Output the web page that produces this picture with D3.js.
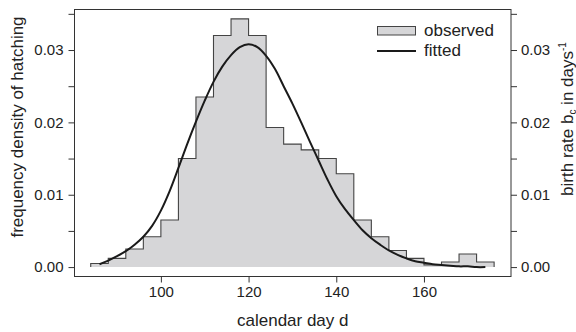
<!DOCTYPE html>
<html>
<head>
<meta charset="utf-8">
<script src="https://cdn.jsdelivr.net/npm/d3@7"></script>
<style>
  body { margin: 0; background: #fff; }
  text { font-family: "Liberation Sans", Arial, sans-serif; fill: #222; }
</style>
</head>
<body>
<svg width="576" height="332"></svg>
<script>
// histogram: 4-day bins, density of hatching
var binStarts = [84, 88, 92, 96, 100, 104, 108, 112, 116, 120, 124, 128, 132, 136, 140, 144, 148, 152, 156, 160, 164, 168, 172];
var binWidth = 4;
var observed = [0.0005, 0.0012, 0.0025, 0.0042, 0.0065, 0.0150, 0.0235, 0.0320, 0.0343, 0.0320, 0.0193, 0.0170,
                0.0162, 0.0150, 0.0129, 0.0065, 0.0042, 0.0023, 0.0012, 0.0003, 0.0007, 0.0018, 0.0007];

// fitted birth rate curve
var fitDays = [86, 88, 90, 92, 94, 96, 98, 100, 102, 104, 106, 108, 110, 112, 114, 116, 118, 120, 122, 124, 126, 128, 130,
               132, 134, 136, 138, 140, 142, 144, 146, 148, 150, 152, 154, 156, 158, 160, 162, 164, 166, 168, 170, 172, 174];
var fitted = [0.0004, 0.0009, 0.0015, 0.0022, 0.0031, 0.0042, 0.0057, 0.0078, 0.0105, 0.0137, 0.0170, 0.0201, 0.0230,
              0.0256, 0.0277, 0.0293, 0.0304, 0.0308, 0.0304, 0.0292, 0.0274, 0.0250, 0.0226, 0.0200, 0.0173, 0.0147,
              0.0121, 0.0098, 0.0080, 0.0065, 0.0051, 0.0040, 0.0031, 0.0023, 0.0017, 0.0012, 0.0008, 0.0006, 0.0004,
              0.0003, 0.0002, 0.0001, 0.0001, 0.0000, 0.0000];

var xTicks = [100, 120, 140, 160];
var yTicks = [0, 0.01, 0.02, 0.03];
var yMinor = [0.005, 0.015, 0.025, 0.035];

var svg = d3.select("svg");
var margin = { top: 9.5, right: 65, bottom: 55.5, left: 74.5 };
var width = +svg.attr("width") - margin.left - margin.right;
var height = +svg.attr("height") - margin.top - margin.bottom;

var x = d3.scaleLinear().domain([80.3, 179.85]).range([0, width]);
var y = d3.scaleLinear().domain([-0.0013, 0.0356]).range([height, 0]);

var g = svg.append("g")
    .attr("transform", "translate(" + margin.left + "," + margin.top + ")");

// histogram as one step polygon
var steps = binStarts.map((d, i) => [d, observed[i]]);
steps.push([binStarts[binStarts.length - 1] + binWidth, observed[observed.length - 1]]);

var area = d3.area()
    .x(d => x(d[0]))
    .y0(y(0))
    .y1(d => y(d[1]))
    .curve(d3.curveStepAfter);

g.append("path")
    .datum(steps)
    .attr("d", area)
    .attr("fill", "#d6d6d8");

var outline = [[binStarts[0], 0]].concat(steps).concat([[steps[steps.length - 1][0], 0]]);
g.append("path")
    .datum(outline)
    .attr("d", d3.line().x(d => x(d[0])).y(d => y(d[1])).curve(d3.curveStepAfter))
    .attr("fill", "none")
    .attr("stroke", "#444")
    .attr("stroke-width", 1.1);

// fitted curve
g.append("path")
    .datum(fitDays.map((d, i) => [d, fitted[i]]))
    .attr("d", d3.line().x(d => x(d[0])).y(d => y(d[1])).curve(d3.curveCatmullRom))
    .attr("fill", "none")
    .attr("stroke", "#1a1a1a")
    .attr("stroke-width", 2);

// frame
g.append("rect")
    .attr("width", width)
    .attr("height", height)
    .attr("fill", "none")
    .attr("stroke", "#333")
    .attr("stroke-width", 1);

// axes
function styleAxis(sel) {
    sel.select(".domain").remove();
    sel.selectAll(".tick line").attr("stroke", "#333");
    sel.selectAll(".tick text").style("font-size", "15px").attr("fill", "#222");
}

g.append("g")
    .attr("transform", "translate(0," + height + ")")
    .call(d3.axisBottom(x).tickValues(xTicks).tickSize(6).tickPadding(4))
    .call(styleAxis);

var allY = yTicks.concat(yMinor);
g.append("g")
    .call(d3.axisLeft(y).tickValues(allY).tickSize(6).tickPadding(5)
        .tickFormat(d => yTicks.includes(d) ? d3.format(".2f")(d) : ""))
    .call(styleAxis);

g.append("g")
    .attr("transform", "translate(" + width + ",0)")
    .call(d3.axisRight(y).tickValues(allY).tickSize(6).tickPadding(4)
        .tickFormat(d => yTicks.includes(d) ? d3.format(".2f")(d) : ""))
    .call(styleAxis);

// axis titles
svg.append("text")
    .attr("x", margin.left + width / 2)
    .attr("y", 326)
    .style("text-anchor", "middle")
    .style("font-size", "17px")
    .text("calendar day d");

svg.append("text")
    .attr("transform", "rotate(-90)")
    .attr("x", -127)
    .attr("y", 23)
    .style("text-anchor", "middle")
    .style("font-size", "17px")
    .text("frequency density of hatching");

var rt = svg.append("text")
    .attr("transform", "rotate(-90)")
    .attr("x", -119)
    .attr("y", 573)
    .style("text-anchor", "middle")
    .style("font-size", "17px");
rt.append("tspan").text("birth rate b");
rt.append("tspan").attr("dy", 2.5).style("font-size", "10px").text("c");
rt.append("tspan").attr("dy", -2.5).text(" in days");
rt.append("tspan").attr("dy", -7).style("font-size", "10px").text("-1");

// legend
var leg = svg.append("g");
leg.append("rect")
    .attr("x", 377.5).attr("y", 26.5)
    .attr("width", 38).attr("height", 8.5)
    .attr("fill", "#d6d6d8").attr("stroke", "#444");
leg.append("text")
    .attr("x", 424).attr("y", 36)
    .style("font-size", "17px")
    .text("observed");
leg.append("line")
    .attr("x1", 377).attr("x2", 416)
    .attr("y1", 51).attr("y2", 51)
    .attr("stroke", "#1a1a1a").attr("stroke-width", 2);
leg.append("text")
    .attr("x", 424).attr("y", 56)
    .style("font-size", "17px")
    .text("fitted");
</script>
</body>
</html>
